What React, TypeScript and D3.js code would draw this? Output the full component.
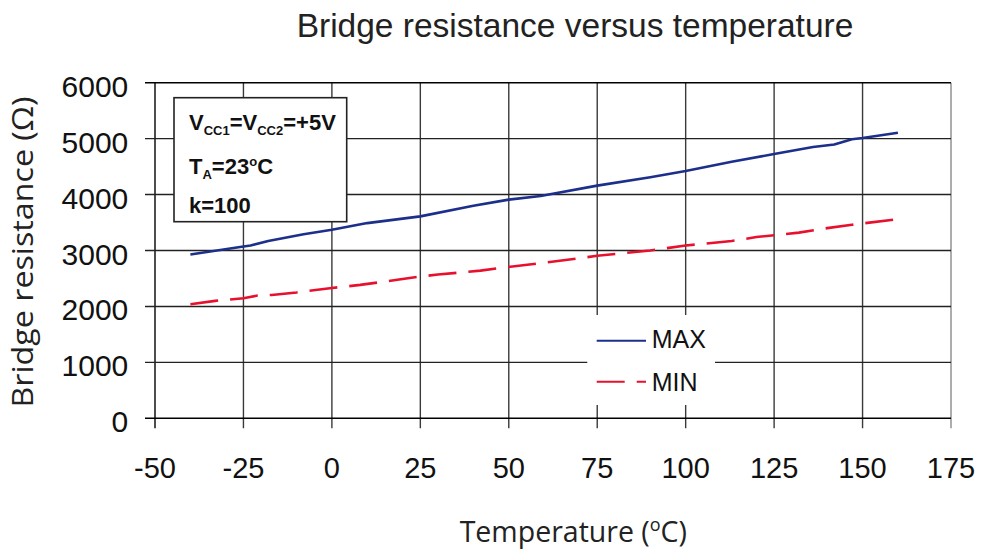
import React from "react";
import * as d3 from "d3";

const tempMax = [-40, -25, -23, -18, -8, 0, 10, 25, 40, 50, 59, 75, 90, 98, 100, 113, 125, 136, 142, 147, 150, 160];
const resMax = [2930, 3070, 3090, 3170, 3290, 3370, 3490, 3610, 3800, 3910, 3975, 4160, 4310, 4400, 4420, 4585, 4725, 4850, 4895, 4990, 5010, 5105];
const tempMin = [-40, -33, -25, -21, -17, -10, 0, 8, 19, 25, 30, 42, 49, 60, 75, 90, 100, 113, 120, 132, 140, 147, 160];
const resMin = [2040, 2100, 2145, 2195, 2205, 2250, 2330, 2385, 2480, 2535, 2570, 2640, 2700, 2780, 2905, 3000, 3090, 3170, 3240, 3320, 3400, 3460, 3560];
const xTicks = [-50, -25, 0, 25, 50, 75, 100, 125, 150, 175];
const yTicks = [0, 1000, 2000, 3000, 4000, 5000, 6000];
const seriesNames = ["MAX", "MIN"];

const W = 984, H = 553;
const L = 155, R = 951, T = 82.7, B = 418.3;
const BLUE = "#1c2f8a";
const RED = "#e8112d";
const GRID = "#3a3a3a";

export default function App() {
  const x = d3.scaleLinear().domain([-50, 175]).range([L, R]);
  const y = d3.scaleLinear().domain([0, 6000]).range([B, T]);
  const line = d3.line<[number, number]>().x((d) => x(d[0])).y((d) => y(d[1]));
  const maxPts = tempMax.map((t, i) => [t, resMax[i]] as [number, number]);
  const minPts = tempMin.map((t, i) => [t, resMin[i]] as [number, number]);
  const arial = "'Liberation Sans', Arial, sans-serif";
  const human = "'Open Sans', 'Noto Sans', sans-serif";

  return (
    <svg width={W} height={H} style={{ position: "absolute", left: 0, top: 0, background: "#fff" }}>
      <rect x={0} y={0} width={W} height={H} fill="#fff" />
      {/* vertical grid */}
      {xTicks.map((t, i) => (
        <line key={"vx" + t} x1={x(t)} x2={x(t)} y1={T} y2={B + 10}
          stroke={i === 0 ? "#000" : i === xTicks.length - 1 ? "#8a8a8a" : GRID}
          strokeWidth={1.4} />
      ))}
      {/* horizontal grid */}
      {yTicks.map((t, i) => (
        <line key={"hy" + t} x1={L - 10} x2={R} y1={y(t)} y2={y(t)}
          stroke={i === 0 || i === yTicks.length - 1 ? "#000" : "#222"} strokeWidth={1.4} />
      ))}
      {/* series */}
      <path d={line(maxPts) || ""} fill="none" stroke={BLUE} strokeWidth={2.6} strokeLinejoin="round" />
      <path d={line(minPts) || ""} fill="none" stroke={RED} strokeWidth={2.6} strokeDasharray="28,12" />
      {/* tick labels */}
      {xTicks.map((t) => (
        <text key={"xl" + t} x={x(t)} y={478.3} textAnchor="middle" fontFamily={arial} fontSize={29} fill="#111">
          {t}
        </text>
      ))}
      {yTicks.map((t) => (
        <text key={"yl" + t} x={128.3} y={y(t) + 14} textAnchor="end" fontFamily={arial} fontSize={30} fill="#111">
          {t}
        </text>
      ))}
      {/* title */}
      <text x={575} y={37.3} textAnchor="middle" fontFamily={arial} fontSize={33.5} fill="#222">
        Bridge resistance versus temperature
      </text>
      {/* axis titles */}
      <text x={573.3} y={541.7} textAnchor="middle" fontFamily={human} fontSize={28.5} fill="#222">
        Temperature (<tspan fontSize={18} dy={-11}>o</tspan><tspan dy={11}>C)</tspan>
      </text>
      <text transform={`translate(33.3,252) rotate(-90)`} textAnchor="middle" fontFamily={human} fontSize={30}
        textLength={311} lengthAdjust="spacingAndGlyphs" fill="#222">
        Bridge resistance (Ω)
      </text>
      {/* annotation box */}
      <rect x={174} y={97.7} width={172.7} height={124} fill="#fff" stroke="#222" strokeWidth={1.6} />
      <text x={189} y={130} fontFamily={arial} fontSize={22} fontWeight="bold" fill="#111">
        V<tspan fontSize={13} dy={5}>CC1</tspan><tspan dy={-5}>=V</tspan><tspan fontSize={13} dy={5}>CC2</tspan><tspan dy={-5}>=+5V</tspan>
      </text>
      <text x={189} y={174} fontFamily={arial} fontSize={22} fontWeight="bold" fill="#111">
        T<tspan fontSize={13} dy={5}>A</tspan><tspan dy={-5}>=23</tspan><tspan fontSize={13} dy={-8}>o</tspan><tspan dy={8}>C</tspan>
      </text>
      <text x={189} y={213} fontFamily={arial} fontSize={22} fontWeight="bold" fill="#111">
        k=100
      </text>
      {/* legend */}
      <rect x={587.3} y={315} width={127.7} height={90} fill="#fff" />
      <line x1={596.7} x2={646} y1={340.7} y2={340.7} stroke={BLUE} strokeWidth={2} />
      <line x1={596.7} x2={646} y1={381.7} y2={381.7} stroke={RED} strokeWidth={2} strokeDasharray="28,12" />
      <text x={651.7} y={348.3} fontFamily={arial} fontSize={25} fill="#111">{seriesNames[0]}</text>
      <text x={651.7} y={390.7} fontFamily={arial} fontSize={25} fill="#111">{seriesNames[1]}</text>
    </svg>
  );
}
